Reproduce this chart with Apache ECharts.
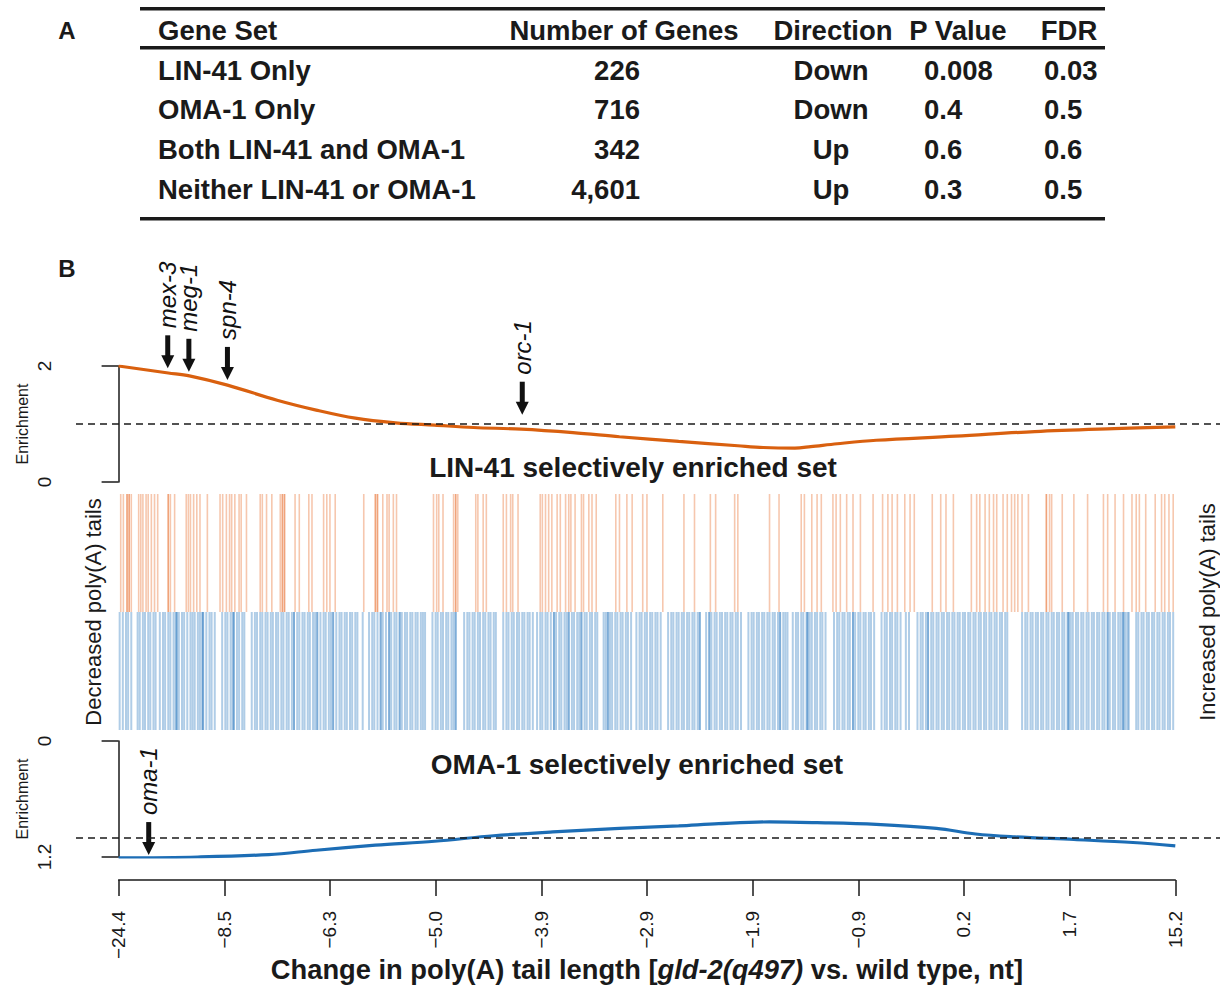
<!DOCTYPE html>
<html><head><meta charset="utf-8">
<script src="https://cdn.jsdelivr.net/npm/echarts@6/dist/echarts.min.js"></script>
<style>html,body{margin:0;padding:0;background:#fff}#c{width:1220px;height:987px}</style>
</head><body><div id="c"></div>
<script>
const FONT = '"Liberation Sans", Arial, Helvetica, sans-serif';

// ---- Panel A table ----
const tableHeader = ['Gene Set', 'Number of Genes', 'Direction', 'P Value', 'FDR'];
const geneSets = ['LIN-41 Only', 'OMA-1 Only', 'Both LIN-41 and OMA-1', 'Neither LIN-41 or OMA-1'];
const geneCounts = ['226', '716', '342', '4,601'];
const directions = ['Down', 'Down', 'Up', 'Up'];
const pValues = ['0.008', '0.4', '0.6', '0.3'];
const fdrValues = ['0.03', '0.5', '0.6', '0.5'];

// ---- Panel B axis ----
const xTickLabels = ['\u221224.4', '\u22128.5', '\u22126.3', '\u22125.0', '\u22123.9', '\u22122.9', '\u22121.9', '\u22120.9', '0.2', '1.7', '15.2'];

// LIN-41 running enrichment (x = percentile of ranked genes)
const lin41CurveX = [0, 4.7, 6.7, 10.3, 15.0, 18.7, 22.4, 26.2, 29.9, 33.6, 38.1, 43.0, 47.4, 53.0, 58.6, 61.0, 64.0, 65.5, 68.0, 71.7, 79.2, 86.7, 94.2, 100];
const lin41CurveY = [2.00, 1.88, 1.83, 1.67, 1.41, 1.24, 1.10, 1.02, 0.98, 0.94, 0.91, 0.85, 0.78, 0.70, 0.625, 0.595, 0.585, 0.61, 0.66, 0.72, 0.79, 0.87, 0.92, 0.95];

// OMA-1 running enrichment
const oma1CurveX = [0, 7.5, 14.2, 18.7, 24.3, 29.9, 35.5, 41.1, 47.4, 53.0, 56.8, 61.6, 66.1, 71.7, 77.4, 81.1, 84.8, 90.4, 96.0, 100];
const oma1CurveY = [1.21, 1.20, 1.175, 1.13, 1.078, 1.037, 0.98, 0.94, 0.904, 0.878, 0.855, 0.837, 0.845, 0.863, 0.904, 0.962, 0.991, 1.019, 1.05, 1.085];

// Highlighted genes
const lin41Genes = ['mex-3', 'meg-1', 'spn-4', 'orc-1'];
const lin41GeneX = [4.65, 6.65, 10.3, 38.2];
const lin41GeneTip = [1.96, 1.90, 1.76, 1.16];
const oma1Genes = ['oma-1'];
const oma1GeneX = [2.85];
const oma1GeneTip = [1.18];

const baseline = 1;

// Barcode: positions (percentile) of LIN-41 selectively enriched genes
const lin41Ranks = [0.2, 0.45, 0.8, 0.8, 1.0, 1.0, 1.2, 1.9, 2.1, 2.3, 2.6, 2.8, 3.1, 3.4, 3.7, 4.7, 4.7, 4.9, 5.3, 6.4, 6.6, 6.8, 7.1, 7.4, 7.7, 8.4, 9.6, 9.85, 10.2, 10.5, 10.7, 11.0, 11.4, 11.6, 12.1, 13.4, 13.6, 14.0, 14.5, 15.3, 15.5, 15.5, 15.7, 15.7, 16.7, 17.1, 18.0, 18.3, 19.4, 19.7, 20.0, 20.5, 23.2, 24.3, 24.3, 24.5, 24.5, 25.0, 25.4, 25.6, 26.0, 26.3, 29.8, 30.1, 30.3, 30.7, 31.7, 31.9, 31.9, 32.1, 33.8, 34.0, 34.5, 34.8, 36.4, 36.7, 37.1, 37.3, 37.8, 39.9, 40.1, 40.4, 40.7, 41.0, 41.5, 41.8, 42.3, 42.6, 42.8, 43.2, 43.8, 44.0, 44.5, 44.8, 45.2, 47.05, 47.4, 48.1, 48.6, 49.6, 50.0, 51.5, 53.5, 54.5, 56.0, 56.5, 58.3, 58.6, 61.6, 62.5, 64.6, 64.9, 65.6, 66.1, 66.5, 67.6, 67.9, 68.3, 68.9, 69.5, 70.2, 71.4, 72.3, 72.8, 73.2, 73.7, 74.4, 74.9, 75.3, 77.0, 77.8, 78.3, 79.0, 80.7, 81.2, 81.5, 82.0, 82.4, 82.8, 83.1, 83.7, 84.1, 84.5, 84.8, 85.1, 85.5, 86.1, 87.8, 87.8, 88.1, 88.3, 89.3, 90.4, 91.7, 93.2, 93.6, 94.3, 95.1, 95.9, 96.3, 96.6, 97.2, 98.1, 98.7, 99.0, 99.4, 99.8];

// Barcode: positions (percentile) of OMA-1 selectively enriched genes
const oma1Ranks = [0.1, 0.4, 0.7, 0.9, 1.2, 1.8, 2.0, 2.3, 2.5, 2.8, 3.0, 3.3, 3.5, 3.9, 4.2, 4.4, 4.7, 4.9, 5.2, 5.4, 5.5, 5.5, 5.7, 6.0, 6.2, 6.5, 6.8, 7.0, 7.2, 7.5, 7.7, 7.9, 8.0, 8.0, 8.3, 8.6, 8.8, 9.1, 9.8, 10.1, 10.3, 10.6, 10.8, 10.9, 10.9, 11.2, 11.4, 11.7, 11.9, 12.6, 12.9, 13.1, 13.4, 13.6, 13.9, 14.1, 14.4, 14.6, 14.9, 15.1, 15.4, 15.6, 15.9, 16.1, 16.4, 16.6, 16.6, 16.9, 17.1, 17.4, 17.6, 17.9, 18.1, 18.4, 18.6, 18.8, 18.8, 19.1, 19.4, 19.6, 19.9, 20.1, 20.3, 20.3, 20.6, 20.9, 21.1, 21.4, 21.6, 21.9, 22.1, 22.4, 22.6, 23.1, 23.7, 24.0, 24.2, 24.5, 24.8, 24.8, 25.0, 25.3, 25.6, 25.6, 25.8, 26.1, 26.3, 26.6, 26.6, 26.8, 27.1, 27.3, 27.6, 27.8, 28.1, 28.3, 28.6, 28.8, 29.0, 29.7, 30.0, 30.2, 30.5, 30.7, 31.0, 31.2, 31.5, 31.7, 31.9, 31.9, 32.7, 33.0, 33.2, 33.5, 33.7, 34.0, 34.2, 34.5, 34.7, 35.0, 35.2, 35.5, 35.7, 36.4, 36.7, 36.9, 37.2, 37.4, 37.7, 37.9, 38.2, 38.4, 38.7, 38.9, 39.2, 39.6, 39.9, 40.1, 40.4, 40.6, 40.9, 41.2, 41.2, 41.4, 41.7, 41.9, 42.2, 42.4, 42.6, 42.6, 42.9, 43.1, 43.4, 43.6, 43.8, 43.8, 44.1, 44.3, 44.6, 44.8, 45.1, 45.3, 45.9, 46.1, 46.3, 46.3, 46.5, 46.7, 47.0, 47.2, 47.5, 47.7, 48.0, 48.2, 48.5, 49.0, 49.3, 49.5, 49.8, 50.0, 50.3, 50.5, 50.8, 51.0, 51.3, 52.0, 52.3, 52.5, 52.8, 53.0, 53.3, 53.5, 53.8, 54.0, 54.3, 54.5, 54.8, 55.0, 55.0, 55.6, 55.9, 55.9, 56.1, 56.4, 56.6, 56.9, 57.1, 57.4, 57.6, 57.9, 58.1, 58.4, 58.6, 58.9, 59.6, 59.9, 60.1, 60.4, 60.6, 60.9, 61.1, 61.4, 61.6, 61.9, 62.1, 62.4, 62.6, 62.6, 62.9, 63.1, 63.3, 63.8, 64.1, 64.3, 64.6, 64.8, 65.1, 65.2, 65.2, 65.4, 65.6, 65.9, 66.1, 66.4, 66.6, 66.9, 67.7, 68.0, 68.2, 68.5, 68.7, 69.0, 69.2, 69.5, 69.5, 69.7, 70.0, 70.2, 70.5, 70.7, 71.0, 71.2, 71.5, 72.2, 72.5, 72.7, 73.0, 73.2, 73.5, 73.7, 74.0, 74.5, 74.8, 75.6, 75.9, 76.1, 76.4, 76.6, 76.6, 76.9, 77.1, 77.4, 77.6, 77.9, 78.1, 78.4, 78.6, 78.9, 79.1, 79.4, 79.6, 79.9, 80.1, 80.4, 80.6, 80.9, 81.1, 81.4, 81.6, 81.9, 82.1, 82.4, 82.6, 82.9, 83.1, 83.4, 83.6, 83.9, 84.1, 85.5, 85.8, 86.0, 86.3, 86.5, 86.8, 87.0, 87.3, 87.5, 87.8, 88.0, 88.3, 88.5, 88.8, 89.0, 89.3, 89.5, 89.8, 89.9, 89.9, 90.1, 90.3, 90.6, 90.8, 91.1, 91.3, 91.6, 91.8, 92.1, 92.3, 92.6, 92.8, 93.1, 93.3, 93.6, 93.6, 93.8, 94.1, 94.3, 94.6, 94.8, 95.0, 95.1, 95.1, 95.3, 95.5, 95.6, 96.3, 96.5, 96.8, 97.0, 97.3, 97.5, 97.8, 98.0, 98.3, 98.5, 98.8, 99.0, 99.3, 99.5, 99.8];

// ---------------------------------------------------------------
const INK = '#1a1a1a';
const ORANGE = '#d9600f';
const BLUE = '#1c6db5';
const EXT_MIN = -4.031, EXT_MAX = 104.23; // extended range so dashed line spans full width

const graphics = [];
// Panel letters
graphics.push({type:'text', x:67, y:30, style:{text:'A', fontFamily:FONT, fontSize:24, fontWeight:'bold', fill:INK, align:'center', verticalAlign:'middle'}});
graphics.push({type:'text', x:67, y:268, style:{text:'B', fontFamily:FONT, fontSize:24, fontWeight:'bold', fill:INK, align:'center', verticalAlign:'middle'}});
// Table rules
[7, 46, 217].forEach(y => graphics.push({type:'rect', shape:{x:140, y:y, width:965, height:3.5}, style:{fill:INK}}));
// Header
const headX = [158, 624, 833, 958, 1069];
const headAlign = ['left', 'center', 'center', 'center', 'center'];
tableHeader.forEach((t, i) => graphics.push({type:'text', x:headX[i], y:30, style:{text:t, fontFamily:FONT, fontSize:27.5, fontWeight:'bold', fill:INK, align:headAlign[i], verticalAlign:'middle'}}));
// Rows
const rowY = [70, 109, 149, 189];
const cols = [geneSets, geneCounts, directions, pValues, fdrValues];
const colX = [158, 640, 831, 924, 1044];
const colAlign = ['left', 'right', 'center', 'left', 'left'];
cols.forEach((col, c) => col.forEach((t, r) => graphics.push({type:'text', x:colX[c], y:rowY[r], style:{text:t, fontFamily:FONT, fontSize:27.5, fontWeight:'bold', fill:INK, align:colAlign[c], verticalAlign:'middle'}})));
// Panel titles
graphics.push({type:'text', x:633, y:467, style:{text:'LIN-41 selectively enriched set', fontFamily:FONT, fontSize:28, fontWeight:'bold', fill:INK, align:'center', verticalAlign:'middle'}});
graphics.push({type:'text', x:637, y:764, style:{text:'OMA-1 selectively enriched set', fontFamily:FONT, fontSize:28, fontWeight:'bold', fill:INK, align:'center', verticalAlign:'middle'}});

function barcodeRender(yLow, yHigh, color, width) {
  return function (params, api) {
    const x = api.value(0);
    const p1 = api.coord([x, yHigh]);
    const p2 = api.coord([x, yLow]);
    return {type:'line', shape:{x1:p1[0], y1:p1[1], x2:p2[0], y2:p2[1]}, style:{stroke:color, lineWidth:width}};
  };
}
function arrowRender(names) {
  return function (params, api) {
    const pt = api.coord([api.value(0), api.value(1)]);
    const x = pt[0], y = pt[1];
    return {type:'group', children:[
      {type:'rect', shape:{x:x-2.5, y:y-33, width:5, height:21}, style:{fill:'#111'}},
      {type:'polygon', shape:{points:[[x-6.5, y-13], [x+6.5, y-13], [x, y]]}, style:{fill:'#111'}},
      {type:'text', x:x, y:y-40, rotation:Math.PI/2, style:{text:names[params.dataIndex], fontFamily:FONT, fontSize:24, fontStyle:'italic', fill:'#111', align:'left', verticalAlign:'middle', textAlign:'left', textVerticalAlign:'middle'}}
    ]};
  };
}

const axisText = {fontFamily:FONT, color:INK};
const option = {
  animation: false,
  backgroundColor: '#fff',
  graphic: graphics,
  grid: [
    {left:76, right:0, top:366, height:116, containLabel:false, outerBoundsMode:'none'},
    {left:118.6, right:44.7, top:494, height:236, containLabel:false, outerBoundsMode:'none'},
    {left:76, right:0, top:741, height:116, containLabel:false, outerBoundsMode:'none'},
    {left:118.6, right:44.7, top:860, height:20, containLabel:false, outerBoundsMode:'none'}
  ],
  xAxis: [
    {gridIndex:0, type:'value', min:EXT_MIN, max:EXT_MAX, show:false},
    {gridIndex:1, type:'value', min:0, max:100, show:false},
    {gridIndex:2, type:'value', min:EXT_MIN, max:EXT_MAX, show:false},
    {gridIndex:3, type:'value', min:0, max:100, interval:10, position:'bottom',
      axisLine:{show:true, onZero:false, lineStyle:{color:INK, width:1.5}},
      axisTick:{show:true, length:16, lineStyle:{color:INK, width:1.5}},
      splitLine:{show:false},
      axisLabel:{rotate:90, margin:31, fontSize:19, ...axisText, formatter:(v) => xTickLabels[Math.round(v/10)]},
      name:'{a|Change in poly(A) tail length [}{b|gld-2(q497)}{a| vs. wild type, nt]}',
      nameLocation:'middle', nameGap:76, nameMoveOverlap:false,
      nameTextStyle:{rich:{
        a:{fontFamily:FONT, fontSize:27.3, fontWeight:'bold', color:INK},
        b:{fontFamily:FONT, fontSize:27.3, fontWeight:'bold', fontStyle:'italic', color:INK}
      }}
    }
  ],
  yAxis: [
    {gridIndex:0, type:'value', min:0, max:2, interval:2,
      axisLine:{show:true, lineStyle:{color:INK, width:1.5}},
      axisTick:{show:true, length:17, lineStyle:{color:INK, width:1.5}},
      splitLine:{show:false},
      axisLabel:{rotate:90, margin:22, fontSize:19, ...axisText},
      name:'Enrichment', nameLocation:'middle', nameRotate:90, nameGap:46, nameMoveOverlap:false,
      nameTextStyle:{fontFamily:FONT, fontSize:16, color:INK}},
    {gridIndex:1, type:'value', min:0, max:2, position:'left',
      axisLine:{show:false}, axisTick:{show:false}, axisLabel:{show:false}, splitLine:{show:false},
      name:'Decreased poly(A) tails', nameLocation:'middle', nameRotate:90, nameGap:14,
      nameTextStyle:{fontFamily:FONT, fontSize:22, color:INK}},
    {gridIndex:1, type:'value', min:0, max:2, position:'right',
      axisLine:{show:false}, axisTick:{show:false}, axisLabel:{show:false}, splitLine:{show:false},
      name:'Increased poly(A) tails', nameLocation:'middle', nameRotate:90, nameGap:21,
      nameTextStyle:{fontFamily:FONT, fontSize:22, color:INK}},
    {gridIndex:2, type:'value', min:0, max:1.2, interval:1.2, inverse:true,
      axisLine:{show:true, lineStyle:{color:INK, width:1.5}},
      axisTick:{show:true, length:17, lineStyle:{color:INK, width:1.5}},
      splitLine:{show:false},
      axisLabel:{rotate:90, margin:22, fontSize:19, ...axisText},
      name:'Enrichment', nameLocation:'middle', nameRotate:90, nameGap:46, nameMoveOverlap:false,
      nameTextStyle:{fontFamily:FONT, fontSize:16, color:INK}},
    {gridIndex:3, type:'value', min:0, max:1, show:false}
  ],
  series: [
    {type:'line', xAxisIndex:0, yAxisIndex:0, data:lin41CurveX.map((x, i) => [x, lin41CurveY[i]]),
      smooth:0.35, showSymbol:false, lineStyle:{color:ORANGE, width:3.2}, silent:true,
      markLine:{silent:true, symbol:'none', label:{show:false},
        lineStyle:{color:INK, type:[7, 5], width:1.5}, data:[{yAxis:baseline}]}},
    {type:'custom', xAxisIndex:0, yAxisIndex:0, data:lin41GeneX.map((x, i) => [x, lin41GeneTip[i]]),
      renderItem:arrowRender(lin41Genes), silent:true},
    {type:'custom', xAxisIndex:1, yAxisIndex:1, data:lin41Ranks.map(x => [x, 0]),
      renderItem:barcodeRender(1, 2, 'rgba(230,100,30,0.36)', 1.6), silent:true},
    {type:'custom', xAxisIndex:1, yAxisIndex:1, data:oma1Ranks.map(x => [x, 0]),
      renderItem:barcodeRender(0, 1, 'rgba(40,120,190,0.37)', 2), silent:true},
    {type:'line', xAxisIndex:2, yAxisIndex:3, data:oma1CurveX.map((x, i) => [x, oma1CurveY[i]]),
      smooth:0.35, showSymbol:false, lineStyle:{color:BLUE, width:3.2}, silent:true,
      markLine:{silent:true, symbol:'none', label:{show:false},
        lineStyle:{color:INK, type:[7, 5], width:1.5}, data:[{yAxis:baseline}]}},
    {type:'custom', xAxisIndex:2, yAxisIndex:3, data:oma1GeneX.map((x, i) => [x, oma1GeneTip[i]]),
      renderItem:arrowRender(oma1Genes), silent:true}
  ]
};
const chart = echarts.init(document.getElementById('c'), null, {renderer:'svg', width:1220, height:987});
chart.setOption(option);
</script>
</body></html>
